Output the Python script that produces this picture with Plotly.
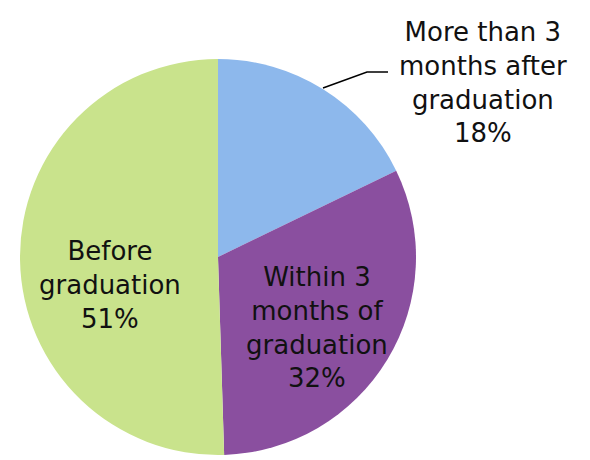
import plotly.graph_objects as go

labels = ["More than 3<br>months after<br>graduation", "Within 3<br>months of<br>graduation", "Before<br>graduation"]
values = [18, 32, 51]
colors = ["#8DB8EC", "#8A4F9F", "#C9E38C"]

W, H = 590, 460
def px(x): return x / W
def py(y): return 1 - y / H

fig = go.Figure(go.Pie(
    labels=labels, values=values, sort=False, direction="clockwise", rotation=0,
    marker=dict(colors=colors, line=dict(width=0)),
    textinfo="none", hoverinfo="label+percent", showlegend=False,
    domain=dict(x=[px(20), px(416)], y=[py(455), py(59)]),
))

font = dict(family="DejaVu Sans", size=26, color="#111111")
label_pos = [(483, 83), (317, 327), (110, 285)]
for lab, v, (x, y) in zip(labels, values, label_pos):
    fig.add_annotation(x=px(x), y=py(y), xref="paper", yref="paper",
                       text=f"{lab}<br>{v}%", showarrow=False, font=font,
                       align="center", xanchor="center", yanchor="middle")

fig.add_shape(type="path", xref="paper", yref="paper",
              path=f"M {px(323)},{py(88)} L {px(367)},{py(72)} L {px(388)},{py(72)}",
              line=dict(color="#000000", width=1.5))

fig.update_layout(width=W, height=H, margin=dict(l=0, r=0, t=0, b=0),
                  paper_bgcolor="white", plot_bgcolor="white")
fig.write_html("out.html")
